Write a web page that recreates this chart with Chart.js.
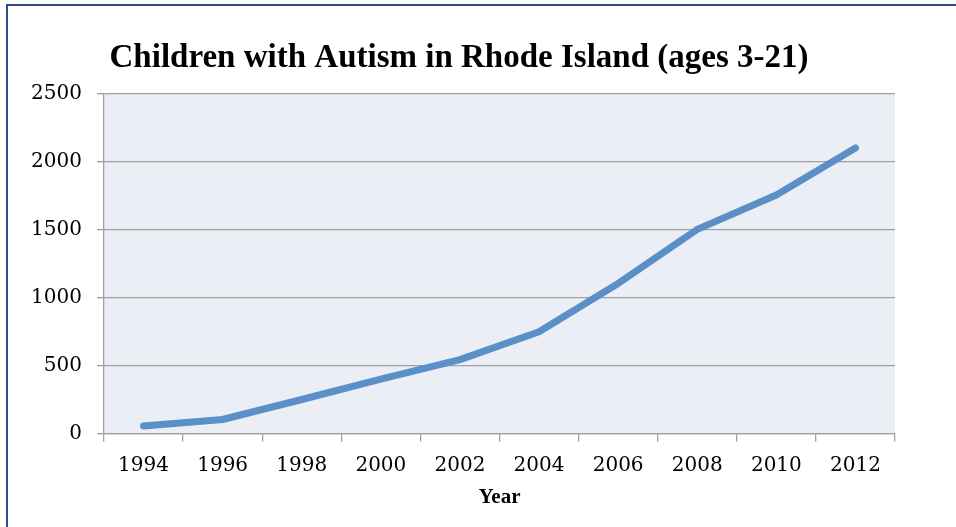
<!DOCTYPE html>
<html>
<head>
<meta charset="utf-8">
<script src="https://cdn.jsdelivr.net/npm/chart.js@4"></script>
<style>
  html, body { margin: 0; padding: 0; background: #fff; overflow: hidden; }
  #frame {
    position: absolute; left: 6px; top: 4px; width: 1200px; height: 800px;
    border-left: 2px solid #2c4b8c; border-top: 2px solid #2c4b8c;
  }
  #wrap { position: absolute; left: 0; top: 0; width: 956px; height: 527px; }
</style>
</head>
<body>
<div id="frame"></div>
<div id="wrap"><canvas id="chart"></canvas></div>
<script>
var years = ["1994", "1996", "1998", "2000", "2002", "2004", "2006", "2008", "2010", "2012"];
var children = [57, 105, 252, 402, 545, 750, 1105, 1502, 1755, 2100];
var yTicks = [0, 500, 1000, 1500, 2000, 2500];

var tickFont = { family: "DejaVu Serif", size: 20 };

// shade the plot area like the spreadsheet chart
var plotBg = {
    id: 'plotBg',
    beforeDraw: function(chart) {
        var a = chart.chartArea;
        var c = chart.ctx;
        c.save();
        c.fillStyle = '#ebeef4';
        c.fillRect(a.left, a.top, a.right - a.left, a.bottom - a.top);
        c.restore();
    }
};

var ctx = document.getElementById("chart");

var chartGraph = new Chart(ctx, {
    type: 'line',
    data: {
        labels: years,
        datasets: [{
            label: 'Children with Autism',
            data: children,
            borderWidth: 7,
            borderColor: '#5a8fc8',
            backgroundColor: 'transparent',
            borderCapStyle: 'round',
            borderJoinStyle: 'round',
            pointRadius: 0,
            tension: 0
        }]
    },
    options: {
        responsive: true,
        maintainAspectRatio: false,
        animation: false,
        layout: { padding: { left: 23, right: 61, top: 0, bottom: 17 } },
        plugins: {
            legend: { display: false },
            tooltip: { enabled: false },
            title: {
                display: true,
                text: "Children with Autism in Rhode Island (ages 3-21)",
                color: '#000',
                font: { family: "Liberation Serif", size: 33, weight: 'bold' },
                padding: { top: 39, bottom: 15 }
            }
        },
        scales: {
            x: {
                offset: true,
                grid: {
                    offset: true,
                    drawOnChartArea: false,
                    drawTicks: true,
                    tickLength: 8,
                    color: '#a0a0a0',
                    lineWidth: 1.3
                },
                border: { color: '#a0a0a0', width: 1.3 },
                ticks: { color: '#000', font: tickFont, padding: 12, maxRotation: 0 },
                title: {
                    display: true,
                    text: 'Year',
                    color: '#000',
                    font: { family: "Liberation Serif", size: 21, weight: 'bold' },
                    padding: { top: -5, bottom: 0 }
                }
            },
            y: {
                min: 0,
                max: 2500,
                afterBuildTicks: function(scale) {
                    scale.ticks = yTicks.map(function(v) { return { value: v }; });
                },
                afterFit: function(scale) { scale.width = 81; },
                grid: {
                    color: '#a0a0a0',
                    lineWidth: 1.3,
                    drawTicks: true,
                    tickLength: 7
                },
                border: { color: '#a0a0a0', width: 1.3 },
                ticks: {
                    color: '#000',
                    font: tickFont,
                    padding: 15,
                    callback: function(value) { return String(value); }
                }
            }
        }
    },
    plugins: [plotBg]
});
</script>
</body>
</html>
